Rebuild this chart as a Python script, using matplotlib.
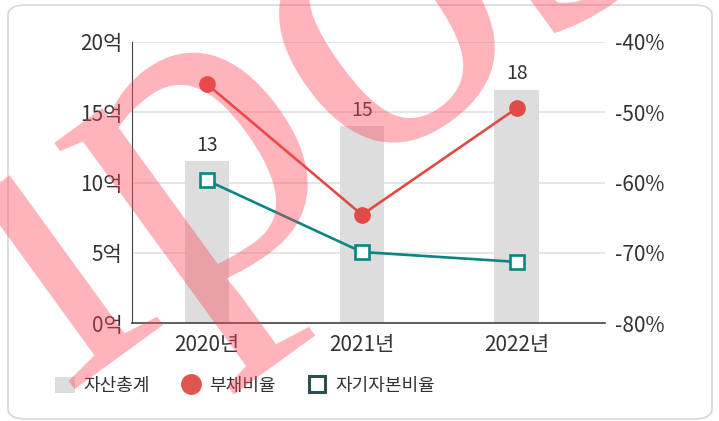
import matplotlib.pyplot as plt
from matplotlib.patches import FancyBboxPatch, Patch, PathPatch
from matplotlib.lines import Line2D
from matplotlib.textpath import TextPath
from matplotlib.font_manager import FontProperties
from matplotlib.transforms import Affine2D

plt.rcParams['font.family'] = ['Noto Sans CJK KR', 'DejaVu Sans']

years = ["2020년", "2021년", "2022년"]
assets = [11.5, 14.0, 16.6]          # 억
asset_labels = ["13", "15", "18"]
debt_ratio = [-46.0, -64.6, -49.4]   # %
equity_ratio = [-59.7, -69.9, -71.3] # %

GRAY = "#dcdddc"
RED = "#e04b45"
TEAL = "#0a8582"
TXT = "#333333"

W, H = 719, 421
fig = plt.figure(figsize=(W / 100, H / 100), dpi=100)

# outer rounded frame
frame = FancyBboxPatch((8 / W, 2 / H), 704 / W, 414 / H,
                       boxstyle="round,pad=0,rounding_size=0.025",
                       transform=fig.transFigure, fill=False,
                       edgecolor="#d8d8d8", linewidth=1.2)
fig.patches.append(frame)

ax = fig.add_axes([132 / W, 1 - 323 / H, 473 / W, 281 / H])
x = range(len(years))
ax.bar(x, assets, width=0.29, color=GRAY, zorder=2)
for i, v in enumerate(assets):
    ax.text(i, v + 0.4, asset_labels[i], ha="center", va="bottom",
            fontsize=14, color=TXT)

ax.set_ylim(0, 20)
ax.set_xlim(-0.484, 2.568)
ax.set_yticks([0, 5, 10, 15, 20])
ax.set_yticklabels([f"{v}억" for v in [0, 5, 10, 15, 20]])
ax.set_xticks(list(x))
ax.set_xticklabels(years)
ax.tick_params(length=0, labelsize=15, colors=TXT)
ax.tick_params(axis="x", pad=8)
ax.tick_params(axis="y", pad=7)
ax.grid(axis="y", color="#e2e2e2", linewidth=1.2, zorder=0)
for s in ["top", "right"]:
    ax.spines[s].set_visible(False)
ax.spines["left"].set_color("#444444")
ax.spines["bottom"].set_color("#444444")
ax.spines["bottom"].set_linewidth(1.2)

ax2 = ax.twinx()
ax2.set_ylim(-80, -40)
ax2.set_yticks([-80, -70, -60, -50, -40])
ax2.set_yticklabels([f"{v}%" for v in [-80, -70, -60, -50, -40]])
ax2.tick_params(length=0, labelsize=15, colors=TXT, pad=7)
for s in ["top", "right", "left", "bottom"]:
    ax2.spines[s].set_visible(False)
ax2.plot(x, debt_ratio, color=RED, linewidth=1.9, marker="o", markersize=11,
         zorder=4)
ax2.plot(x, equity_ratio, color=TEAL, linewidth=1.9, marker="s", markersize=10,
         markerfacecolor="white", markeredgecolor=TEAL, markeredgewidth=1.9,
         zorder=4)

handles = [
    Patch(facecolor=GRAY, edgecolor="none", label="자산총계"),
    Line2D([], [], linestyle="none", marker="o", markersize=14, color="#dc564e",
           label="부채비율"),
    Line2D([], [], linestyle="none", marker="s", markersize=12,
           markerfacecolor="white", markeredgecolor="#2d4f4f",
           markeredgewidth=2.2, label="자기자본비율"),
]
fig.legend(handles=handles, loc="center left",
           bbox_to_anchor=(39 / W, 1 - 386 / H), ncol=3, frameon=False,
           fontsize=13, labelcolor=TXT, handlelength=1.1, handleheight=1.0,
           columnspacing=1.75, handletextpad=0.45)

# watermark stamp (drawn in pixel units on an overlay axes)
wax = fig.add_axes([0, 0, 1, 1], zorder=10)
wax.set_xlim(0, W)
wax.set_ylim(0, H)
wax.axis("off")
fp = FontProperties(family="Liberation Serif")
size = 460
word = TextPath((0, 0), "ipostock", size=size, prop=fp)
p_box = TextPath((0, 0), "p", size=size, prop=fp).get_extents()
ip_box = TextPath((0, 0), "ip", size=size, prop=fp).get_extents()
cx = ip_box.x1 - p_box.width * 0.42
cy = size * 0.23
tr = Affine2D().translate(-cx, -cy).rotate_deg(36).translate(210, H - 160)
wm = PathPatch(tr.transform_path(word), facecolor="#ff4555",
               edgecolor="none", alpha=0.4)
wax.add_patch(wm)

fig.savefig("out.png", dpi=100)
